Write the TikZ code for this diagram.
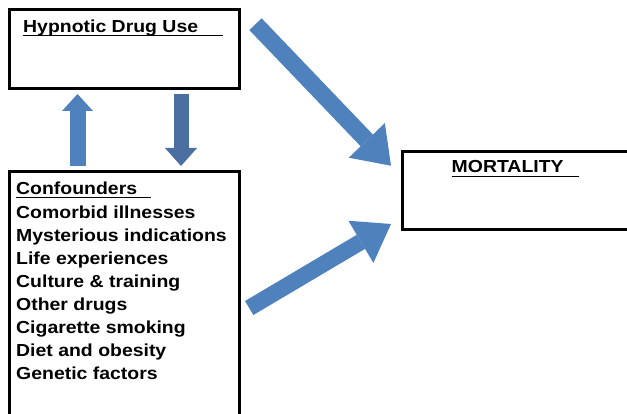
\documentclass[tikz,border=0pt]{standalone}
\usepackage{fontspec}
\setmainfont{Liberation Sans}[FakeStretch=1.117]
\usetikzlibrary{arrows.meta}
\definecolor{arc}{RGB}{79,129,189}
\definecolor{darc}{RGB}{74,111,160}

\begin{document}
\begin{tikzpicture}[x=1pt, y=-1pt, font=\fontsize{17.4}{23.1}\selectfont\bfseries,
	block/.style={rectangle, draw, line width=3pt, outer sep=0pt, inner sep=0pt, minimum width=230pt, anchor=north west},
	txt/.style={anchor=base west, inner sep=0pt},
	uline/.style={line width=1.4pt},
	fat/.style={draw=arc, line width=17pt, -{Triangle[length=35pt, width=50pt, line width=0pt]}},
	thin/.style={draw=arc, line width=16pt, -{Triangle[length=17pt, width=31pt, line width=0pt]}},]
	 \useasboundingbox (0,0) rectangle (627,414);

	 \node[block, minimum height=79pt] (drug) at (9,10) {};
	 \node[block, minimum height=246pt] (conf) at (9,172) {};
	 \node[block, minimum height=78pt] (mort) at (402,152) {};

	 \node[txt] (drugtitle) at (23,33) {Hypnotic Drug Use};
	 \node[txt] (conftitle) at (16,195) {Confounders};
	 \node[txt] (morttitle) at (451.5,173) {MORTALITY};
	 \foreach \lbl [count=\i] in {Comorbid illnesses, Mysterious indications, Life experiences, Culture \& training, Other drugs, Cigarette smoking, Diet and obesity, Genetic factors}
	 	\node[txt] (conf\i) at (16,195+23.1*\i) {\lbl};

	 % underlines
	 \draw[uline] ([yshift=-2.3pt]drugtitle.base west) -- ++(200,0);
	 \draw[uline] ([yshift=-2.8pt]conftitle.base west) -- ++(135,0);
	 \draw[uline] ([yshift=-3.3pt]morttitle.base west) -- ++(127.5,0);

	 \coordinate (upfrom) at (77.5,166);
	 \coordinate (upto) at (77.5,94);
	 \coordinate (downfrom) at (181,94);
	 \coordinate (downto) at (181,166);
	 \coordinate (drugout) at (255.5,24.2);
	 \coordinate (confout) at (249.2,308);
	 \coordinate (mortin1) at (391,165.7);
	 \coordinate (mortin2) at (391,224);

	 \draw[thin] (upfrom) -- (upto);
	 \draw[thin, draw=darc, line width=15pt, -{Triangle[length=18pt, width=32pt, line width=0pt]}] (downfrom) -- (downto);
	 \draw[fat] (drugout) -- (mortin1);
	 \draw[fat, line width=16.3pt, -{Triangle[length=35pt, width=49pt, line width=0pt]}] (confout) -- (mortin2);

\end{tikzpicture}
\end{document}
